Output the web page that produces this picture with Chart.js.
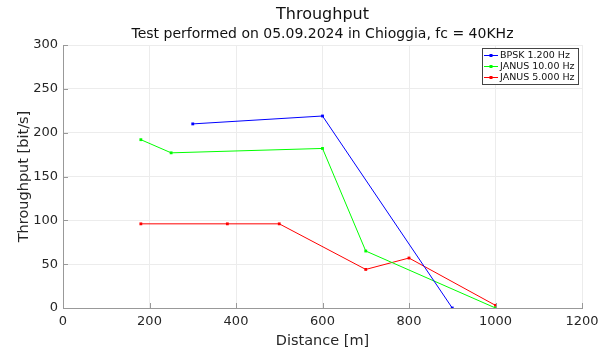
<!DOCTYPE html>
<html>
<head>
<meta charset="utf-8">
<script src="https://cdn.jsdelivr.net/npm/chart.js@4"></script>
<style>
  html, body { margin: 0; padding: 0; background: #fff; }
  #wrap { width: 616px; height: 350px; }
</style>
</head>
<body>
<div id="wrap"><canvas id="chart" width="616" height="350"></canvas></div>
<script>
// data
const seriesNames = ['BPSK 1.200 Hz', 'JANUS 10.00 Hz', 'JANUS 5.000 Hz'];
const bpskX = [300, 600, 900];
const bpskY = [210, 219, 0];
const janus10X = [180, 250, 600, 700, 1000];
const janus10Y = [192, 177, 182, 65, 0];
const janus5X = [180, 380, 500, 700, 800, 1000];
const janus5Y = [96, 96, 96, 44, 57, 3];
const xTicks = [0, 200, 400, 600, 800, 1000, 1200];
const yTicks = [0, 50, 100, 150, 200, 250, 300];

const colors = ['#0000ff', '#00ff00', '#ff0000'];
const font = 'DejaVu Sans';
const axisColor = '#999';

function toPoints(xs, ys) {
    return xs.map((x, i) => ({ x: x, y: ys[i] }));
}

// matlab style ticks pointing into the plot
const innerTicks = {
    id: 'innerTicks',
    afterDatasetsDraw(chart) {
        const ctx = chart.ctx;
        const area = chart.chartArea;
        const xs = chart.scales.x, ys = chart.scales.y;
        ctx.save();
        ctx.strokeStyle = axisColor;
        ctx.lineWidth = 1;
        ctx.beginPath();
        xTicks.forEach(v => {
            const px = Math.round(xs.getPixelForValue(v)) + 0.5;
            ctx.moveTo(px, area.bottom);
            ctx.lineTo(px, area.bottom - 5);
        });
        yTicks.forEach(v => {
            const py = Math.round(ys.getPixelForValue(v)) + 0.5;
            ctx.moveTo(area.left, py);
            ctx.lineTo(area.left + 5, py);
        });
        ctx.stroke();
        ctx.restore();
    }
};

// little boxed legend inside the plot, top right
const boxLegend = {
    id: 'boxLegend',
    afterDraw(chart) {
        const ctx = chart.ctx;
        const area = chart.chartArea;
        const sets = chart.data.datasets;
        ctx.save();
        ctx.font = '9.5px "' + font + '"';
        let w = 0;
        sets.forEach(ds => { w = Math.max(w, ctx.measureText(ds.label).width); });
        const boxW = Math.round(w + 21);
        const rowH = 11;
        const boxH = sets.length * rowH + 3;
        const x0 = Math.round(area.right - boxW - 4);
        const y0 = Math.round(area.top + 3);
        ctx.fillStyle = '#fff';
        ctx.fillRect(x0, y0, boxW, boxH);
        ctx.strokeStyle = '#444';
        ctx.lineWidth = 1;
        ctx.strokeRect(x0 + 0.5, y0 + 0.5, boxW, boxH);
        sets.forEach((ds, i) => {
            const cy = y0 + 7.5 + i * rowH;
            ctx.strokeStyle = ds.borderColor;
            ctx.beginPath();
            ctx.moveTo(x0 + 2, cy);
            ctx.lineTo(x0 + 16, cy);
            ctx.stroke();
            ctx.fillStyle = ds.borderColor;
            ctx.fillRect(x0 + 7.5, cy - 1.5, 3, 3);
            ctx.fillStyle = '#111';
            ctx.textBaseline = 'middle';
            ctx.fillText(ds.label, x0 + 18, cy + 0.5);
        });
        ctx.restore();
    }
};

const ctx = document.getElementById('chart').getContext('2d');
new Chart(ctx, {
    type: 'line',
    data: {
        datasets: [
            { label: seriesNames[0], data: toPoints(bpskX, bpskY) },
            { label: seriesNames[1], data: toPoints(janus10X, janus10Y) },
            { label: seriesNames[2], data: toPoints(janus5X, janus5Y) }
        ].map((ds, i) => Object.assign(ds, {
            borderColor: colors[i],
            backgroundColor: colors[i],
            borderWidth: 1,
            pointStyle: 'rect',
            pointRadius: 2,
            pointBorderWidth: 0,
            tension: 0,
            fill: false
        }))
    },
    options: {
        responsive: false,
        animation: false,
        layout: { padding: { left: 0, right: 34, top: 0, bottom: 0 } },
        plugins: {
            legend: { display: false },
            tooltip: { enabled: false },
            title: {
                display: true,
                fullSize: false,
                text: 'Throughput',
                color: '#111',
                font: { family: font, size: 16, weight: 'normal' },
                padding: { top: 5, bottom: 1 }
            },
            subtitle: {
                display: true,
                fullSize: false,
                text: 'Test performed on 05.09.2024 in Chioggia, fc = 40KHz',
                color: '#111',
                font: { family: font, size: 14 },
                padding: { top: 1, bottom: 2 }
            }
        },
        scales: {
            x: {
                type: 'linear',
                min: 0,
                max: 1200,
                afterBuildTicks: axis => { axis.ticks = xTicks.map(v => ({ value: v })); },
                afterFit: axis => { axis.height = 42; },
                ticks: {
                    color: '#262626',
                    font: { family: font, size: 13 },
                    padding: 6,
                    maxRotation: 0,
                    callback: v => String(v)
                },
                grid: { color: '#ececec', drawTicks: false },
                border: { color: axisColor },
                title: {
                    display: true,
                    text: 'Distance [m]',
                    color: '#262626',
                    font: { family: font, size: 14.5 },
                    padding: { top: 2, bottom: 0 }
                }
            },
            y: {
                min: 0,
                max: 300,
                afterBuildTicks: axis => { axis.ticks = yTicks.map(v => ({ value: v })); },
                afterFit: axis => { axis.width = 63; },
                ticks: { color: '#262626', font: { family: font, size: 13 }, padding: 5 },
                grid: { color: '#ececec', drawTicks: false },
                border: { color: axisColor },
                title: {
                    display: true,
                    text: 'Throughput [bit/s]',
                    color: '#262626',
                    font: { family: font, size: 14.5 },
                    padding: { top: 16, bottom: 0 }
                }
            }
        }
    },
    plugins: [innerTicks, boxLegend]
});
</script>
</body>
</html>
